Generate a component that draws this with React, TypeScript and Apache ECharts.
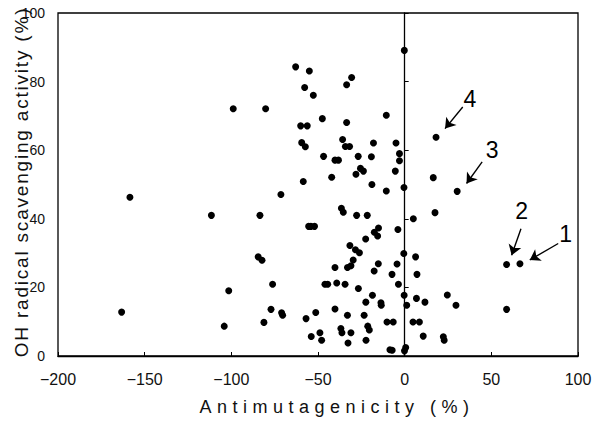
import React, { useEffect, useRef } from "react";
import * as echarts from "echarts";

// Antimutagenicity (%) values (x)
const antimutagenicity = [
  -0.2, -62.9, -55.0, -57.7, -52.7, -30.6, -33.5, -98.9, -80.2, -47.5,
  -60.0, -56.2, -33.5, -10.6, -59.4, -57.3, -35.8, -34.2, -31.8, -18.0,
  -5.0, -46.8, -40.2, -38.2, -26.8, -19.2, -3.0, -3.0, -58.5, -42.1,
  -28.1, -25.5, -23.8, -5.4, -18.9, -10.6, -0.4, 18.1, 16.5, 30.3,
  -158.5, -71.4, -111.5, -83.5, -55.4, -84.5, -82.3, -76.2, -101.5, -163.3,
  -77.1, -71.0, -70.4, -104.1, -81.2, -36.5, -35.4, -27.7, -21.6, 5.0,
  17.5, -54.1, -52.0, -15.1, -17.5, -15.6, -3.9, -22.5, -31.6, -28.4,
  -26.1, -29.7, -0.5, 6.3, -40.2, -33.0, -31.0, -15.2, -17.6, -4.4,
  -7.3, 7.1, -46.0, -44.4, -39.2, -34.4, -26.7, -3.6, -18.6, -22.4,
  -13.7, -13.5, -0.3, 1.2, 6.8, 11.7, 24.6, 29.6, 58.8, 66.5,
  58.8, -56.9, -51.3, -40.2, -33.0, -23.4, -36.8, -36.2, -31.0, -21.3,
  -20.4, -22.3, -10.2, -6.6, 4.8, 8.5, 10.7, 22.3, 22.8, -53.9,
  -48.9, -47.9, -32.7, -8.5, -7.2, 0.6, -0.1,
];

// OH radical scavenging activity (%) values (y)
const scavenging = [
  89.1, 84.3, 83.1, 78.3, 76.0, 81.2, 79.1, 72.1, 72.1, 69.2,
  67.1, 67.1, 68.1, 70.2, 62.2, 61.0, 63.1, 61.1, 61.1, 62.1,
  62.1, 58.2, 57.1, 57.1, 58.2, 58.1, 59.0, 56.9, 50.9, 52.1,
  53.0, 54.7, 53.9, 53.9, 50.0, 48.1, 49.1, 63.8, 52.0, 48.0,
  46.3, 47.1, 41.0, 41.0, 37.8, 28.9, 27.9, 20.9, 19.0, 12.8,
  13.6, 12.6, 11.9, 8.7, 9.8, 43.1, 41.9, 41.0, 41.0, 40.0,
  41.8, 37.8, 37.8, 37.3, 36.1, 35.0, 36.9, 34.1, 32.2, 31.0,
  30.1, 28.0, 29.9, 28.9, 25.8, 25.8, 26.3, 26.9, 24.8, 26.8,
  23.8, 23.8, 20.9, 20.9, 21.3, 20.9, 19.7, 20.9, 17.7, 15.7,
  15.5, 14.8, 17.7, 14.8, 16.8, 15.7, 17.8, 14.8, 26.7, 26.9,
  13.6, 10.9, 12.7, 13.7, 11.9, 11.9, 8.0, 6.8, 6.8, 8.7,
  7.6, 4.6, 9.9, 9.9, 9.9, 9.9, 5.8, 5.6, 4.6, 5.7,
  6.8, 4.6, 3.8, 1.8, 1.7, 2.5, 1.5,
];

// Numbered annotations (data coordinates)
const labelNames = ["1", "2", "3", "4"];
const labelX = [92.9, 67.5, 50.4, 37.7];
const labelY = [35.5, 42.3, 60.0, 75.0];
const arrowFromX = [88.6, 67.1, 44.7, 33.5];
const arrowFromY = [32.8, 37.1, 56.6, 72.6];
const arrowToX = [72.2, 61.7, 35.7, 23.3];
const arrowToY = [28.0, 29.4, 50.3, 66.3];

const X_NAME = "Antimutagenicity (%)";
const Y_NAME = "OH radical scavenging activity (%)";

const FONT = '"Liberation Sans", Arial, Helvetica, sans-serif';

export default function App() {
  const ref = useRef<HTMLDivElement>(null);

  useEffect(() => {
    document.body.style.margin = "0";
    if (!ref.current) return;
    const chart = echarts.init(ref.current, null, { renderer: "svg" });

    const points = antimutagenicity.map((x, i) => [x, scavenging[i]]);
    const labels = labelNames.map((n, i) => ({ name: n, value: [labelX[i], labelY[i]] }));
    const arrows = labelNames.map((_, i) => [
      { coord: [arrowFromX[i], arrowFromY[i]], symbol: "none" },
      { coord: [arrowToX[i], arrowToY[i]], symbol: "arrow" },
    ]);

    chart.setOption({
      animation: false,
      backgroundColor: "#ffffff",
      grid: {
        left: 58,
        right: 15,
        top: 13,
        bottom: 74,
        containLabel: false,
        outerBoundsMode: "none",
        show: true,
        borderColor: "#000",
        borderWidth: 1.3,
        backgroundColor: "transparent",
      },
      xAxis: {
        type: "value",
        min: -200,
        max: 100,
        interval: 50,
        name: X_NAME,
        nameLocation: "middle",
        nameGap: 42,
        nameTextStyle: {
          fontFamily: FONT,
          fontSize: 18,
          color: "#111",
          padding: [0, 0, 0, 38],
        },
        axisLine: { show: true, onZero: false, lineStyle: { color: "#000", width: 1.3 } },
        axisTick: { show: true, inside: true, length: 4, lineStyle: { color: "#000" } },
        axisLabel: {
          fontFamily: FONT,
          fontSize: 16,
          color: "#111",
          margin: 15,
          showMinLabel: true,
          showMaxLabel: true,
          formatter: (v: number) => (v < 0 ? "\u2212" + Math.abs(v) : String(v)),
        },
        splitLine: { show: false },
      },
      yAxis: {
        type: "value",
        min: 0,
        max: 100,
        interval: 20,
        axisLine: { show: true, onZero: true, lineStyle: { color: "#000", width: 1.3 } },
        axisTick: { show: true, inside: true, length: 4, lineStyle: { color: "#000" } },
        axisLabel: {
          fontFamily: FONT,
          fontSize: 14,
          color: "#111",
          margin: 13,
          showMinLabel: true,
          showMaxLabel: true,
        },
        splitLine: { show: false },
      },
      graphic: [
        {
          type: "text",
          x: 21,
          y: 182,
          rotation: Math.PI / 2,
          style: {
            text: Y_NAME,
            fontFamily: FONT,
            fontSize: 19,
            fill: "#111",
            textAlign: "center",
            textVerticalAlign: "middle",
          },
        },
      ],
      series: [
        {
          type: "scatter",
          data: points,
          symbol: "circle",
          symbolSize: 7,
          itemStyle: { color: "#000", opacity: 1 },
          markLine: {
            silent: true,
            animation: false,
            symbolSize: 10,
            label: { show: false },
            lineStyle: { color: "#000", width: 1.4, type: "solid", opacity: 1 },
            data: arrows,
          },
        },
        {
          type: "scatter",
          data: labels,
          symbol: "circle",
          symbolSize: 1,
          itemStyle: { color: "rgba(0,0,0,0)", opacity: 1 },
          label: {
            show: true,
            position: "inside",
            formatter: "{b}",
            fontFamily: FONT,
            fontSize: 23,
            color: "#000",
            opacity: 1,
          },
        },
      ],
    });

    // Letter-spaced axis titles, as in the reference
    const texts = ref.current.querySelectorAll("text");
    texts.forEach((t) => {
      const c = (t.textContent || "").trim();
      if (c === X_NAME) t.setAttribute("letter-spacing", "5.5");
      if (c === Y_NAME) t.setAttribute("letter-spacing", "1.8");
    });

    return () => chart.dispose();
  }, []);

  return (
    <div
      ref={ref}
      style={{ position: "absolute", left: 0, top: 0, width: 593, height: 430 }}
    />
  );
}
